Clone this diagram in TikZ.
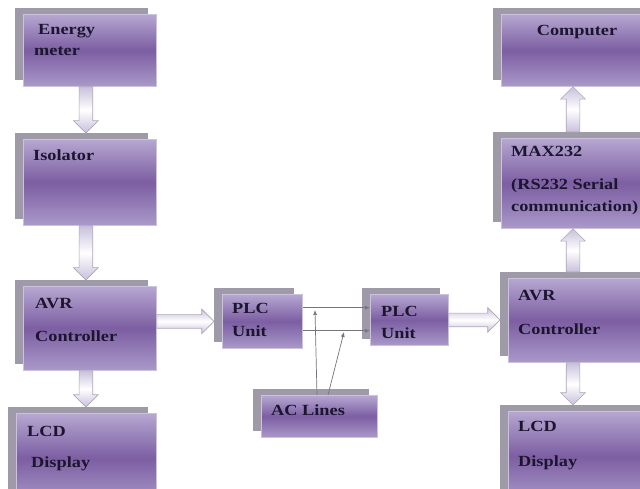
\documentclass[tikz,border=0pt]{standalone}
\usepackage{fontspec}
\newfontfamily\lbl[FakeStretch=1.18]{Liberation Serif}
\usetikzlibrary{shapes.arrows,calc,arrows.meta}
\definecolor{boxtop}{HTML}{B6A7D1}
\definecolor{boxmid}{HTML}{7C5EA2}
\definecolor{boxbot}{HTML}{AA99C9}
\definecolor{boxline}{HTML}{CBC2DE}
\definecolor{shadowc}{HTML}{9E9AA8}
\definecolor{txtc}{HTML}{1C1530}
\definecolor{arrfill}{HTML}{C9C0DC}
\definecolor{arrline}{HTML}{ABA6B6}
\definecolor{thinc}{HTML}{77737F}
\tikzset{
  shadowbox/.style={anchor=north west, fill=shadowc, draw=none, inner sep=0pt},
  frontbox/.style={anchor=north west, top color=boxtop, bottom color=boxbot, middle color=boxmid, draw=boxline, line width=0.8pt, inner sep=0pt},
  lab/.style={anchor=base west, text=txtc, font=\lbl\bfseries\fontsize{15.5}{16}\selectfont, inner sep=0pt},
  blockarr/.style={single arrow, single arrow head extend=5.5pt, single arrow head indent=0pt,
     minimum width=24pt, inner xsep=0pt, inner ysep=6.5pt, outer sep=0pt, draw=arrline, line width=0.6pt,
     top color=arrfill, bottom color=arrfill, middle color=white, sloped, anchor=tail},
  thinarr/.style={draw=thinc, line width=0.7pt, -{Latex[length=5pt,width=4pt]}}
}
\newcommand\blk[5]{%
  \node[shadowbox, minimum width=#4pt, minimum height=#5pt] (#1s) at (#2-8,#3-6) {};
  \node[frontbox, minimum width=#4pt, minimum height=#5pt] (#1) at (#2,#3) {};}
\newcommand\barrow[2]{%
  \path let \p1=($(#2)-(#1)$), \n1={veclen(\x1,\y1)} in
    (#1) -- (#2) node[pos=0, blockarr, minimum height=\n1] {};}
\begin{document}
\begin{tikzpicture}[x=1pt,y=-1pt]
\useasboundingbox (0,0) rectangle (640,489);
\clip (0,0) rectangle (640,489);
\fill[white] (0,0) rectangle (640,489);
% boxes
\blk{em}{23}{14}{133}{72}
\blk{iso}{23}{139}{133}{86}
\blk{avrL}{23}{286}{133}{84}
\blk{lcdL}{16}{413}{140}{90}
\blk{plA}{222}{294}{80}{54}
\blk{plB}{370}{294}{78}{51}
\blk{ac}{261}{395}{116}{42}
\blk{comp}{501}{14}{150}{72}
\blk{max}{501}{138}{150}{90}
\blk{avrR}{508}{278}{142}{84}
\blk{lcdR}{508}{411}{142}{90}
% labels
\node[lab] (t1) at (38,35) {Energy};
\node[lab] (t2) at (34,56) {meter};
\node[lab] (t3) at (33,161) {Isolator};
\node[lab] (t4) at (35,308) {AVR};
\node[lab] (t5) at (35,341) {Controller};
\node[lab] (t6) at (27,436) {LCD};
\node[lab] (t7) at (31,467) {Display};
\node[lab] (t8) at (232,313) {PLC};
\node[lab] (t9) at (232,336) {Unit};
\node[lab] (t10) at (381,316) {PLC};
\node[lab] (t11) at (381,338) {Unit};
\node[lab] (t12) at (271,415) {AC Lines};
\node[lab, anchor=base] (t13) at (577,36) {Computer};
\node[lab] (t14) at (511,157) {MAX232};
\node[lab] (t15) at (511,190) {(RS232 Serial};
\node[lab] (t16) at (511,212) {communication)};
\node[lab] (t17) at (518,300) {AVR};
\node[lab] (t18) at (518,334) {Controller};
\node[lab] (t19) at (518,431) {LCD};
\node[lab] (t20) at (518,466) {Display};
% block arrows
\coordinate (c1) at ($(em.south)+(-4,0)$);
\coordinate (c2) at (c1 |- isos.north);
\barrow{c1}{c2}
\coordinate (c3) at ($(iso.south)+(-4,0)$);
\coordinate (c4) at (c3 |- avrLs.north);
\barrow{c3}{c4}
\coordinate (c5) at ($(avrL.south)+(-4,0)$);
\coordinate (c6) at (c5 |- lcdLs.north);
\barrow{c5}{c6}
\coordinate (c7) at (avrL.east |- plA.west);
\coordinate (c8) at (plAs.west |- plA.west);
\barrow{c7}{c8}
\coordinate (c9) at (plB.east);
\coordinate (c10) at (avrRs.west |- plB.east);
\barrow{c9}{c10}
\coordinate (c11) at (573,272);
\coordinate (c12) at (c11 |- max.south);
\barrow{c11}{c12}
\coordinate (c13) at (c11 |- maxs.north);
\coordinate (c14) at (c11 |- comp.south);
\barrow{c13}{c14}
\coordinate (c15) at (c11 |- avrR.south);
\coordinate (c16) at (c11 |- lcdRs.north);
\barrow{c15}{c16}
% thin lines
\coordinate (d1) at ($(plA.north east)!0.25!(plA.south east)$);
\coordinate (d2) at ($(plA.north east)!0.67!(plA.south east)$);
\draw[thinarr] (d1) -- (plB.west |- d1);
\draw[thinarr] (d2) -- (plB.west |- d2);
\coordinate (e1) at (315,310);
\coordinate (e2) at (344,332);
\draw[thinarr] (ac.north -| 317,0) -- (e1);
\draw[thinarr] (ac.north -| 328,0) -- (e2);
\end{tikzpicture}
\end{document}
